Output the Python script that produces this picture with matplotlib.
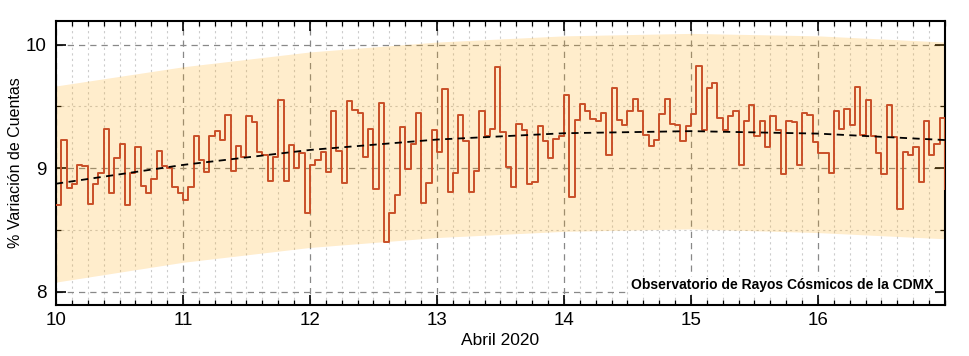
import numpy as np
import matplotlib
matplotlib.use('Agg')
import matplotlib.pyplot as plt
from matplotlib.ticker import MultipleLocator

plt.rcParams['font.family'] = ['Liberation Sans', 'DejaVu Sans']

# hourly count variation (%), 10-17 April 2020 (last value is the first hour of the 17th)
variacion = [
    8.70, 9.23, 8.84, 8.87, 9.03, 9.02, 8.71, 8.87, 8.96, 9.32, 8.80, 9.08,
    9.20, 8.70, 8.96, 9.17, 8.86, 8.80, 8.91, 9.14, 9.02, 9.00, 8.85, 8.80,
    8.74, 8.85, 9.26, 9.07, 8.97, 9.26, 9.30, 9.23, 9.43, 8.98, 9.18, 9.09,
    9.42, 9.37, 9.13, 9.11, 8.90, 9.09, 9.55, 8.90, 9.19, 9.00, 9.12, 8.64,
    9.03, 9.07, 9.13, 8.97, 9.46, 9.14, 8.88, 9.54, 9.47, 9.45, 9.09, 9.32,
    8.83, 9.53, 8.40, 8.64, 8.78, 9.33, 8.99, 9.20, 9.45, 8.72, 8.88, 9.31,
    9.13, 9.64, 8.81, 8.96, 9.43, 9.22, 8.81, 8.98, 9.46, 9.26, 9.32, 9.82,
    9.29, 9.01, 8.85, 9.36, 9.31, 8.87, 8.89, 9.34, 9.22, 9.08, 9.24, 9.26,
    9.59, 8.77, 9.39, 9.52, 9.46, 9.40, 9.38, 9.45, 9.11, 9.65, 9.39, 9.35,
    9.46, 9.56, 9.46, 9.27, 9.18, 9.23, 9.44, 9.56, 9.36, 9.35, 9.22, 9.34,
    9.44, 9.83, 9.31, 9.65, 9.69, 9.41, 9.31, 9.42, 9.46, 9.03, 9.38, 9.51,
    9.26, 9.38, 9.17, 9.42, 9.31, 8.95, 9.38, 9.37, 9.03, 9.45, 9.43, 9.21,
    9.12, 9.12, 8.96, 9.46, 9.32, 9.48, 9.35, 9.66, 9.27, 9.55, 9.26, 9.12,
    8.95, 9.51, 9.25, 8.67, 9.13, 9.11, 9.17, 8.89, 9.38, 9.11, 9.20, 9.41,
    8.83,
]

# daily trend and band
dias = [10, 11, 12, 13, 14, 15, 16, 17]
tendencia = [8.875, 9.027, 9.148, 9.232, 9.283, 9.300, 9.280, 9.228]
banda_sup = [9.665, 9.82, 9.94, 10.02, 10.07, 10.09, 10.07, 10.02]
banda_inf = [8.08, 8.24, 8.36, 8.44, 8.49, 8.51, 8.48, 8.43]

dias_ticks = [10, 11, 12, 13, 14, 15, 16]

x = 10 + np.arange(len(variacion)) / 24.0

fig = plt.figure(figsize=(9.69, 3.56), dpi=100)
ax = fig.add_axes([0.0578, 0.1433, 0.9174, 0.7977])

ax.fill_between(dias, banda_inf, banda_sup, color='#ffa500', alpha=0.2, lw=0, zorder=1)
ax.step(x, variacion, where='post', color='#c94f28', lw=1.4, zorder=3)
ax.plot(dias, tendencia, color='black', lw=1.3, ls=(0, (4, 3)), zorder=4)

ax.set_xlim(10, 17)
ax.set_ylim(7.895, 10.19)
ax.set_xticks(dias_ticks)
ax.set_yticks([8, 9, 10])
ax.xaxis.set_minor_locator(MultipleLocator(0.125))
ax.yaxis.set_minor_locator(MultipleLocator(0.5))

ax.grid(which='major', color='#888888', ls=(0, (5, 4)), lw=0.9, zorder=2)
ax.grid(which='minor', color='#cccccc', ls=(0, (2, 3)), lw=0.8, zorder=2)
ax.set_axisbelow(True)

ax.tick_params(which='both', direction='in', top=True, right=True, labelsize=13.5)
ax.tick_params(which='major', length=7, width=1.2)
ax.tick_params(which='minor', length=3.5, width=0.9)
ax.tick_params(axis='x', pad=5)
ax.tick_params(axis='y', pad=7)
for s in ax.spines.values():
    s.set_linewidth(1.5)

ax.set_xlabel('Abril 2020', fontsize=12.5, labelpad=3)
ax.set_ylabel('% Variación de Cuentas', fontsize=11.5, labelpad=2)

ax.text(0.987, 0.045, 'Observatorio de Rayos Cósmicos de la CDMX', transform=ax.transAxes,
        ha='right', va='bottom', fontsize=10, fontweight='bold', zorder=5,
        bbox=dict(facecolor='white', edgecolor='none', pad=1))

fig.savefig('out.png', dpi=100)
